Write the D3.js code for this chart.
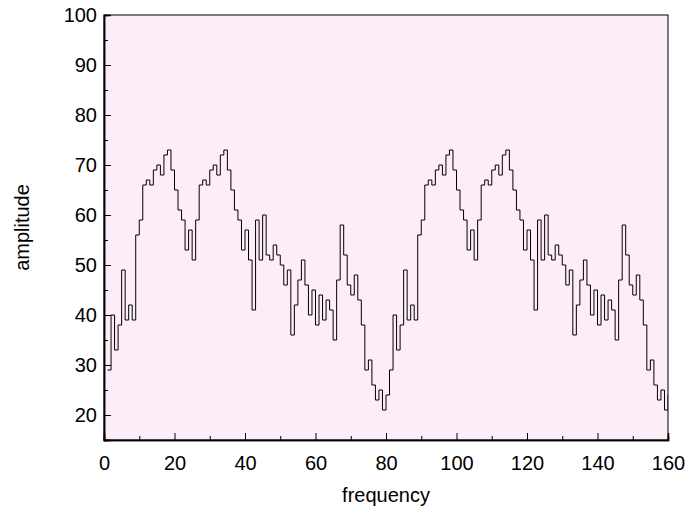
<!DOCTYPE html>
<html>
<head>
<meta charset="utf-8">
<script src="https://cdn.jsdelivr.net/npm/d3@7"></script>
<style>
  body { margin: 0; background: #fff; }
  text { font-family: "Liberation Sans", Arial, sans-serif; }
</style>
</head>
<body>
<div id="chart"></div>
<script>
// data ----------------------------------------------------------------------
const frequency = d3.range(1, 161);
const amplitude = [
  29, 40, 33, 38, 49, 39, 42, 39, 56, 59, 66, 67, 66, 69, 70, 68, 72, 73, 69, 65,
  61, 59, 53, 57, 51, 59, 66, 67, 66, 69, 70, 68, 72, 73, 69, 65, 61, 59, 53, 57,
  51, 41, 59, 51, 60, 52, 51, 54, 52, 50, 46, 49, 36, 42, 47, 51, 46, 40, 45, 38,
  44, 39, 43, 41, 35, 47, 58, 52, 46, 44, 48, 43, 38, 29, 31, 26, 23, 25, 21, 24,
  29, 40, 33, 38, 49, 39, 42, 39, 56, 59, 66, 67, 66, 69, 70, 68, 72, 73, 69, 65,
  61, 59, 53, 57, 51, 59, 66, 67, 66, 69, 70, 68, 72, 73, 69, 65, 61, 59, 53, 57,
  51, 41, 59, 51, 60, 52, 51, 54, 52, 50, 46, 49, 36, 42, 47, 51, 46, 40, 45, 38,
  44, 39, 43, 41, 35, 47, 58, 52, 46, 44, 48, 43, 38, 29, 31, 26, 23, 25, 21, 24
];
const xMajor = [0, 20, 40, 60, 80, 100, 120, 140, 160];
const xMinor = [10, 30, 50, 70, 90, 110, 130, 150];
const yMajor = [20, 30, 40, 50, 60, 70, 80, 90, 100];
const yMinor = [25, 35, 45, 55, 65, 75, 85, 95];

const width = 688, height = 512;
const margin = {top: 15, right: 20, bottom: 72, left: 104};
const plotW = width - margin.left - margin.right;
const plotH = height - margin.top - margin.bottom;

const svg = d3.select('#chart')
  .append('svg')
  .attr('width', width)
  .attr('height', height);

const g = svg.append('g')
  .attr('transform', `translate(${margin.left},${margin.top})`);

const x = d3.scaleLinear().domain([0, 160]).range([0, plotW]);
const y = d3.scaleLinear().domain([15, 100]).range([plotH, 0]);

// plot background
g.append('rect')
  .attr('width', plotW)
  .attr('height', plotH)
  .attr('fill', '#fcedf8');

g.append('clipPath').attr('id', 'clip')
  .append('rect').attr('width', plotW).attr('height', plotH);

// step line
const pts = frequency.map((f, i) => [f, amplitude[i]]);
const line = d3.line()
  .x(d => x(d[0]))
  .y(d => y(d[1]))
  .curve(d3.curveStepAfter);

g.append('path')
  .datum(pts)
  .attr('clip-path', 'url(#clip)')
  .attr('fill', 'none')
  .attr('stroke', '#000')
  .attr('stroke-width', 1)
  .attr('d', line);

// frame
g.append('rect')
  .attr('width', plotW)
  .attr('height', plotH)
  .attr('fill', 'none')
  .attr('stroke', '#000')
  .attr('stroke-width', 1);

// axes, ticks pointing inwards
const xAxis = g.append('g')
  .attr('transform', `translate(0,${plotH})`)
  .call(d3.axisBottom(x).tickValues(xMajor).tickSize(-7).tickPadding(16).tickFormat(d3.format('d')));
g.append('g')
  .attr('transform', `translate(0,${plotH})`)
  .call(d3.axisBottom(x).tickValues(xMinor).tickSize(-4).tickFormat(''));

const yAxis = g.append('g')
  .call(d3.axisLeft(y).tickValues(yMajor).tickSize(-7).tickPadding(7).tickFormat(d3.format('d')));
g.append('g')
  .call(d3.axisLeft(y).tickValues(yMinor).tickSize(-4).tickFormat(''));

g.selectAll('.domain').attr('stroke', '#000').attr('stroke-width', 1.5);
g.selectAll('.tick line').attr('stroke', '#000').attr('stroke-width', 1);
g.selectAll('.tick text')
  .attr('fill', '#000')
  .style('font-size', '20px')
  .style('font-family', '"Liberation Sans", Arial, sans-serif');

// axis titles
svg.append('text')
  .attr('x', margin.left + plotW / 2)
  .attr('y', 502)
  .attr('text-anchor', 'middle')
  .style('font-size', '20px')
  .text('frequency');

svg.append('text')
  .attr('transform', `translate(29,${margin.top + plotH / 2}) rotate(-90)`)
  .attr('text-anchor', 'middle')
  .style('font-size', '20px')
  .text('amplitude');
</script>
</body>
</html>
